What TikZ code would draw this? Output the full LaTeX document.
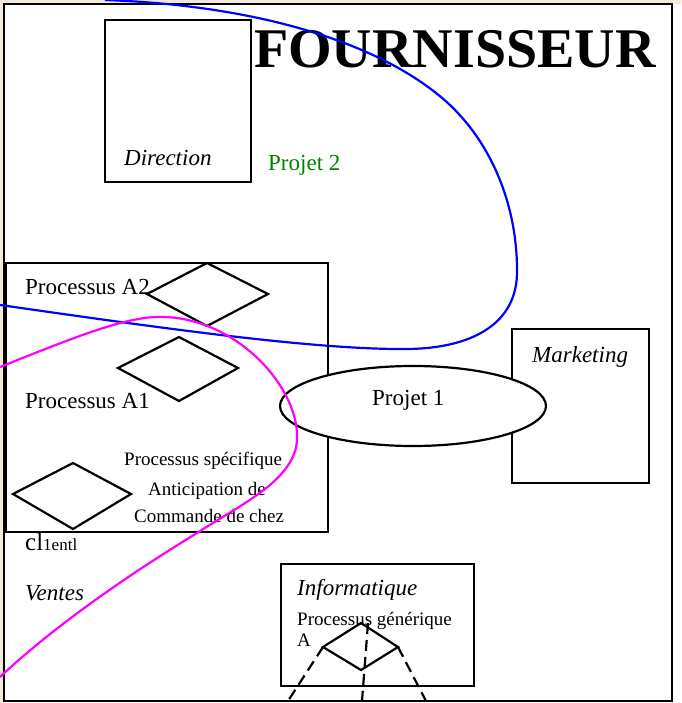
\documentclass[tikz,border=0pt]{standalone}
\usepackage{fontspec}
\setmainfont{Liberation Serif}
\definecolor{bgtan}{RGB}{242,232,220}
\definecolor{projgreen}{RGB}{0,128,0}
\definecolor{curvblue}{RGB}{0,0,255}
\definecolor{curvmag}{RGB}{255,0,255}
\begin{document}
\begin{tikzpicture}[x=1pt,y=-1pt,
  lbl/.style={font=\fontsize{23}{27}\selectfont, inner sep=0pt, anchor=base west},
  ilbl/.style={font=\fontsize{23}{27}\selectfont\itshape, inner sep=0pt, anchor=base west},
  slbl/.style={font=\fontsize{19}{23}\selectfont, inner sep=0pt, anchor=base west},
  boxline/.style={draw=black, line width=2.2pt, line join=miter},
  dashline/.style={draw=black, line width=2.2pt, dash pattern=on 11pt off 6pt},
  curve/.style={line width=2.2pt}]
\useasboundingbox (0,0) rectangle (681,703);
\fill[bgtan] (0,0) rectangle (681,703);
\fill[white] (4,4) rectangle (681,703);
\draw[line width=1.5pt] (4,4) rectangle (672,701);

% boxes
\draw[boxline] (105,20) rectangle (251,182);
\draw[boxline] (6,263) rectangle (328,532);
\draw[boxline] (512,329) rectangle (649,483);
\draw[boxline] (281,564) rectangle (474,686);

% diamonds in big box
\draw[boxline] (207,263) -- (268,294) -- (207,326) -- (147,294) -- cycle;
\draw[boxline] (179,337) -- (238,368) -- (179,401) -- (118,368) -- cycle;
\draw[boxline] (73,463) -- (131,494) -- (73,529) -- (13,494) -- cycle;

% diamond in Informatique
\coordinate (dt) at (361,623);
\coordinate (dl) at (323,647);
\coordinate (dr) at (398,647);
\coordinate (db) at (361,670);
\draw[boxline] (dt) -- (dr) -- (db) -- (dl) -- cycle;
\coordinate (el) at (288,701);
\coordinate (em) at (362,701);
\coordinate (er) at (426,701);
\coordinate (mt) at (368,623);
\draw[dashline] (dl) -- (el);
\draw[dashline] (mt) -- (em);
\draw[dashline] (dr) -- (er);

% ellipse Projet 1
\draw[boxline, fill=white] (413,406) ellipse [x radius=133, y radius=40];

% texts
\node[font=\fontsize{56}{60}\selectfont\bfseries, inner sep=0pt, anchor=base west] (title) at (254,68) {FOURNISSEUR};
\node[ilbl] (direction) at (124,166) {Direction};
\node[lbl, text=projgreen] (projet2) at (268,171) {Projet 2};
\node[lbl] (pa2) at (25,294) {Processus A2};
\node[lbl] (pa1) at (25,408) {Processus A1};
\node[lbl] (projet1) at (372,405) {Projet 1};
\node[ilbl] (marketing) at (532,362) {Marketing};
\node[slbl] (pspec) at (124,465) {Processus spécifique};
\node[slbl] (antic) at (148,495) {Anticipation de};
\node[slbl] (cmd) at (134,522) {Commande de chez};
\node[inner sep=0pt, anchor=base west] (client) at (25,550) {{\fontsize{25}{28}\selectfont cl}{\fontsize{17}{20}\selectfont 1entl}};
\node[ilbl] (ventes) at (25,600) {Ventes};
\node[ilbl] (informatique) at (297,595) {Informatique};
\node[slbl] (pgen) at (297,625) {Processus générique};
\node[slbl] (pgenA) at (297,646) {A};

% curves
\draw[curve, curvblue] (105,0) .. controls (250,5) and (380,40) .. (450,105)
  .. controls (495,148) and (517,210) .. (517,270)
  .. controls (518,325) and (470,350) .. (400,349)
  .. controls (300,349) and (120,322) .. (0,305);
\draw[curve, curvmag] (0,367) .. controls (80,335) and (130,315) .. (165,317)
  .. controls (240,320) and (300,390) .. (297,440)
  .. controls (295,480) and (240,505) .. (197,533)
  .. controls (120,580) and (50,630) .. (0,677);
\end{tikzpicture}
\end{document}
